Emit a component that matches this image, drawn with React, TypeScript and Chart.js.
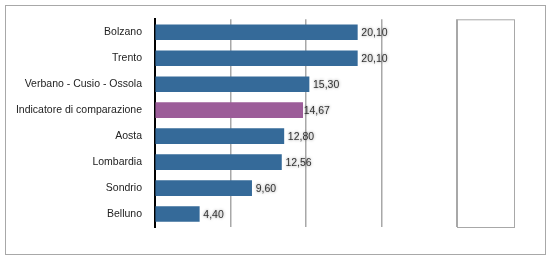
import React, { useEffect, useRef } from "react";
import { Chart, registerables } from "chart.js";

Chart.register(...registerables);

const categories = [
  "Bolzano",
  "Trento",
  "Verbano - Cusio - Ossola",
  "Indicatore di comparazione",
  "Aosta",
  "Lombardia",
  "Sondrio",
  "Belluno",
];
const values = [20.1, 20.1, 15.3, 14.67, 12.8, 12.56, 9.6, 4.4];
const highlightIndex = 3;
const xMax = 30;
const xStep = 7.5;

const BLUE = "#356a99";
const PURPLE = "#9c5d99";
const FONT = "'Liberation Sans', Arial, Helvetica, sans-serif";

const framePlugin = {
  id: "frame",
  beforeDraw(chart: any) {
    const ctx = chart.ctx;
    ctx.save();
    ctx.fillStyle = "#fff";
    ctx.fillRect(0, 0, chart.width, chart.height);
    ctx.strokeStyle = "#a8a8a8";
    ctx.lineWidth = 1;
    ctx.strokeRect(5.5, 5.5, 540, 249);
    ctx.restore();
  },
  afterDraw(chart: any) {
    const ctx = chart.ctx;
    const a = chart.chartArea;
    ctx.save();
    ctx.strokeStyle = "#a8a8a8";
    ctx.lineWidth = 1;
    ctx.strokeRect(a.right + 0.5, a.top + 0.5, 57, a.bottom - a.top);
    ctx.restore();
  },
};

const valueLabelPlugin = {
  id: "valueLabels",
  afterDatasetsDraw(chart: any) {
    const ctx = chart.ctx;
    const meta = chart.getDatasetMeta(0);
    ctx.save();
    ctx.font = `10.5px ${FONT}`;
    ctx.textBaseline = "middle";
    ctx.textAlign = "left";
    ctx.fillStyle = "#333";
    ctx.shadowColor = "rgba(0,0,0,0.45)";
    ctx.shadowBlur = 3;
    meta.data.forEach((el: any, i: number) => {
      const txt = values[i].toFixed(2).replace(".", ",");
      const off = i === highlightIndex ? 1 : 4;
      ctx.fillText(txt, el.x + off, el.y + 1);
    });
    ctx.restore();
  },
};

export default function App() {
  const ref = useRef<HTMLCanvasElement>(null);
  useEffect(() => {
    document.body.style.margin = "0";
    const chart = new Chart(ref.current!, {
      type: "bar",
      data: {
        labels: categories,
        datasets: [
          {
            data: values,
            backgroundColor: values.map((_, i) => (i === highlightIndex ? PURPLE : BLUE)),
            barThickness: 15,
            borderWidth: 0,
          },
        ],
      },
      options: {
        indexAxis: "y",
        responsive: false,
        animation: false,
        layout: { padding: { left: 0, right: 95, top: 19, bottom: 35 } },
        plugins: { legend: { display: false }, tooltip: { enabled: false } },
        scales: {
          x: {
            min: 0,
            max: xMax,
            ticks: { display: false, stepSize: xStep },
            grid: {
              drawTicks: false,
              color: (c: any) => (c.tick && c.tick.value === 0 ? "rgba(0,0,0,0)" : "#a8a8a8"),
              lineWidth: 1.5,
            },
            border: { display: false },
            afterFit: (s: any) => {
              s.height = 0;
            },
          },
          y: {
            grid: { display: false, drawTicks: false },
            border: { display: true, color: "#000", width: 2 },
            ticks: {
              padding: 13,
              color: "#222",
              font: { family: FONT, size: 10.5 },
            },
            afterFit: (s: any) => {
              s.width = 155;
            },
          },
        },
      },
      plugins: [framePlugin, valueLabelPlugin],
    });
    return () => chart.destroy();
  }, []);
  return <canvas ref={ref} width={552} height={262} style={{ display: "block" }} />;
}
